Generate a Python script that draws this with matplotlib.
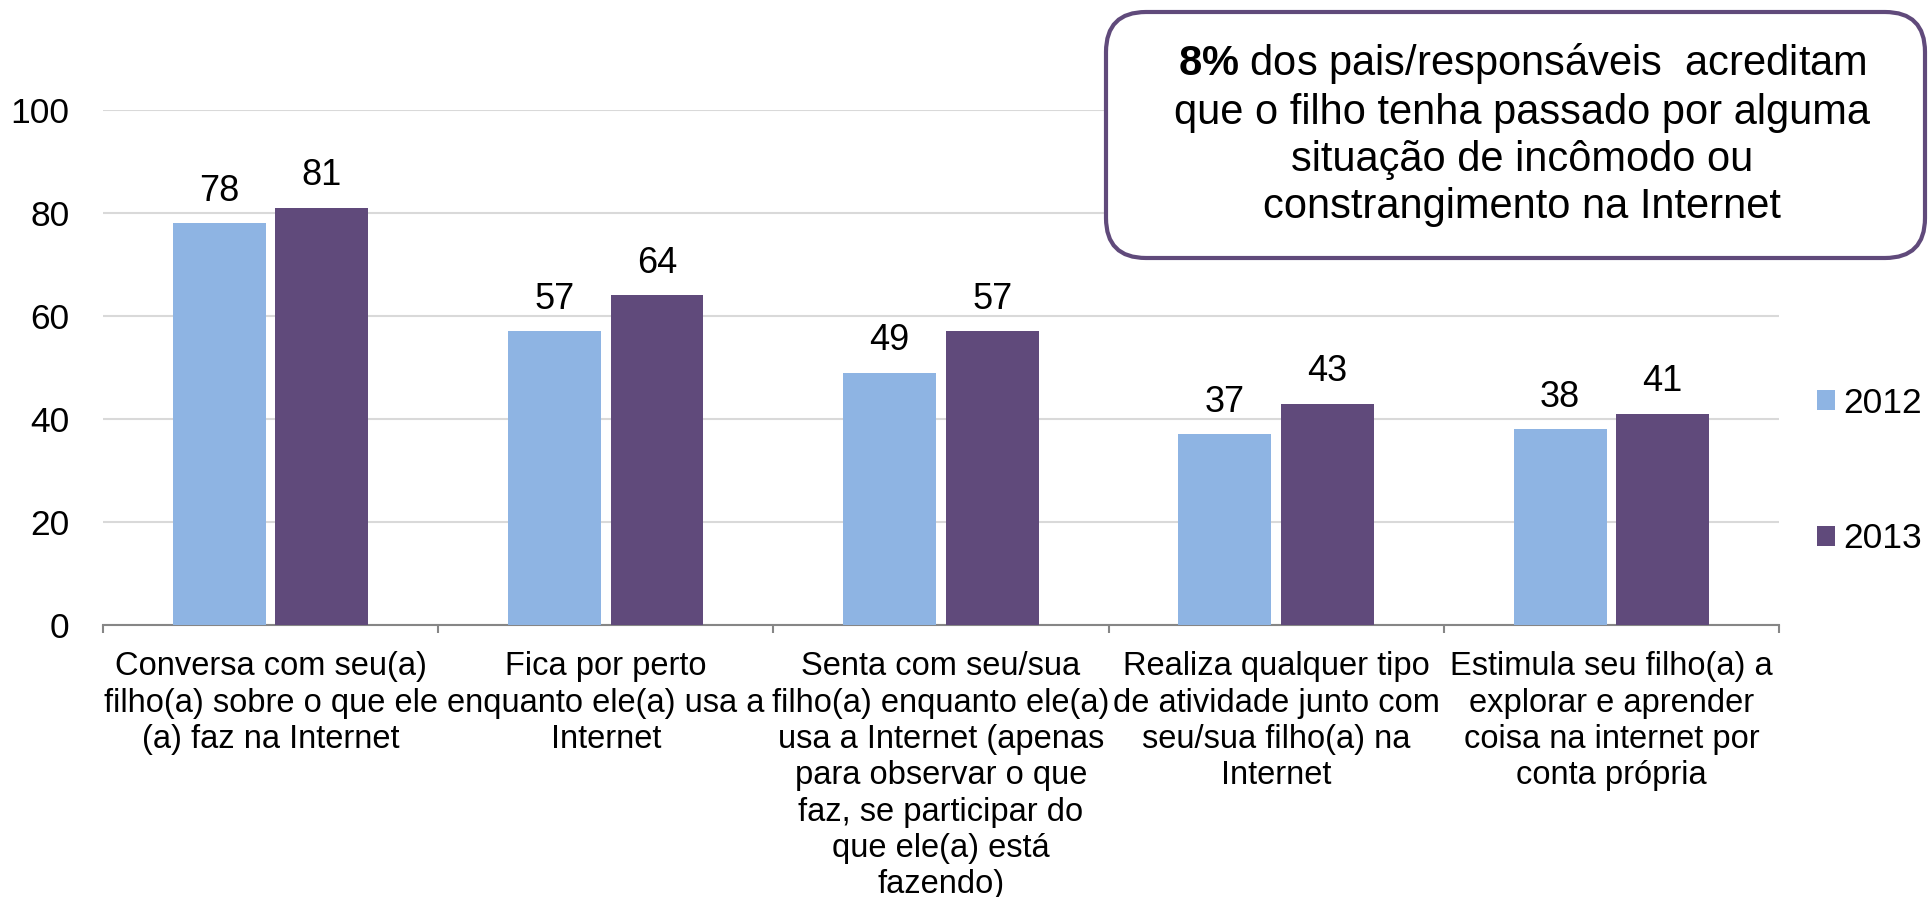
import matplotlib
matplotlib.use("Agg")
import matplotlib.pyplot as plt
import matplotlib.patches as mpatches
import numpy as np

plt.rcParams['font.family'] = ['Liberation Sans', 'DejaVu Sans']
plt.rcParams['mathtext.fontset'] = 'custom'
plt.rcParams['mathtext.rm'] = 'Liberation Sans'
plt.rcParams['mathtext.bf'] = 'Liberation Sans:bold'

categories = [
    "Conversa com seu(a)\nfilho(a) sobre o que ele\n(a) faz na Internet",
    "Fica por perto\nenquanto ele(a) usa a\nInternet",
    "Senta com seu/sua\nfilho(a) enquanto ele(a)\nusa a Internet (apenas\npara observar o que\nfaz, se participar do\nque ele(a) está\nfazendo)",
    "Realiza qualquer tipo\nde atividade junto com\nseu/sua filho(a) na\nInternet",
    "Estimula seu filho(a) a\nexplorar e aprender\ncoisa na internet por\nconta própria",
]
years = ["2012", "2013"]
vals_2012 = [78, 57, 49, 37, 38]
vals_2013 = [81, 64, 57, 43, 41]
yticks = [0, 20, 40, 60, 80, 100]
note = ("$\\bf{8\\%}$ dos pais/responsáveis  acreditam\n"
        "que o filho tenha passado por alguma\n"
        "situação de incômodo ou\n"
        "constrangimento na Internet")

c2012 = "#8EB4E3"
c2013 = "#604A7B"

fig = plt.figure(figsize=(19.31, 8.97), dpi=100)
ax = fig.add_axes([0.0533, 0.3032, 0.868, 0.5742])

x = np.arange(len(categories))
w = 0.277
off = 0.153
b1 = ax.bar(x - off, vals_2012, w, color=c2012, label=years[0], zorder=3)
b2 = ax.bar(x + off, vals_2013, w, color=c2013, label=years[1], zorder=3)

for bars, vals in [(b1, vals_2012), (b2, vals_2013)]:
    for rect, v in zip(bars, vals):
        ax.annotate(str(v), (rect.get_x() + rect.get_width() / 2, v),
                    xytext=(0, 10.5), textcoords="offset points",
                    ha="center", va="bottom", fontsize=26)

ax.set_xlim(-0.5, len(categories) - 0.5)
ax.set_ylim(0, 100)
ax.set_yticks(yticks)
ax.tick_params(axis="y", length=0, pad=24, labelsize=25.5)
ax.yaxis.grid(True, color="#D9D9D9", linewidth=1.5, zorder=0)

ax.set_xticks(x)
ax.set_xticklabels(categories, fontsize=23.5, linespacing=1.22)
ax.tick_params(axis="x", length=0, pad=19)
ax.set_xticks(np.arange(len(categories) + 1) - 0.5, minor=True)
ax.tick_params(axis="x", which="minor", length=6, width=1.5, color="#868686")

for s in ["top", "right", "left"]:
    ax.spines[s].set_visible(False)
ax.spines["bottom"].set_color("#868686")
ax.spines["bottom"].set_linewidth(1.5)

leg = fig.legend(loc="center left", bbox_to_anchor=(1817 / 1931, 1 - 471 / 897),
                 frameon=False, fontsize=25.5, handlelength=0.51, handleheight=0.51,
                 handletextpad=0.23, labelspacing=2.9, borderpad=0, borderaxespad=0)

box = mpatches.FancyBboxPatch((11.06, 6.39), 8.19, 2.46,
                              boxstyle="round,pad=0,rounding_size=0.4",
                              transform=fig.dpi_scale_trans, facecolor="white",
                              edgecolor=c2013, linewidth=3, zorder=5)
fig.patches.append(box)
fig.text(15.22 / 19.31, 7.63 / 8.97, note, ha="center", va="center",
         fontsize=30, linespacing=1.22, zorder=6)

fig.savefig("out.png", dpi=100)
